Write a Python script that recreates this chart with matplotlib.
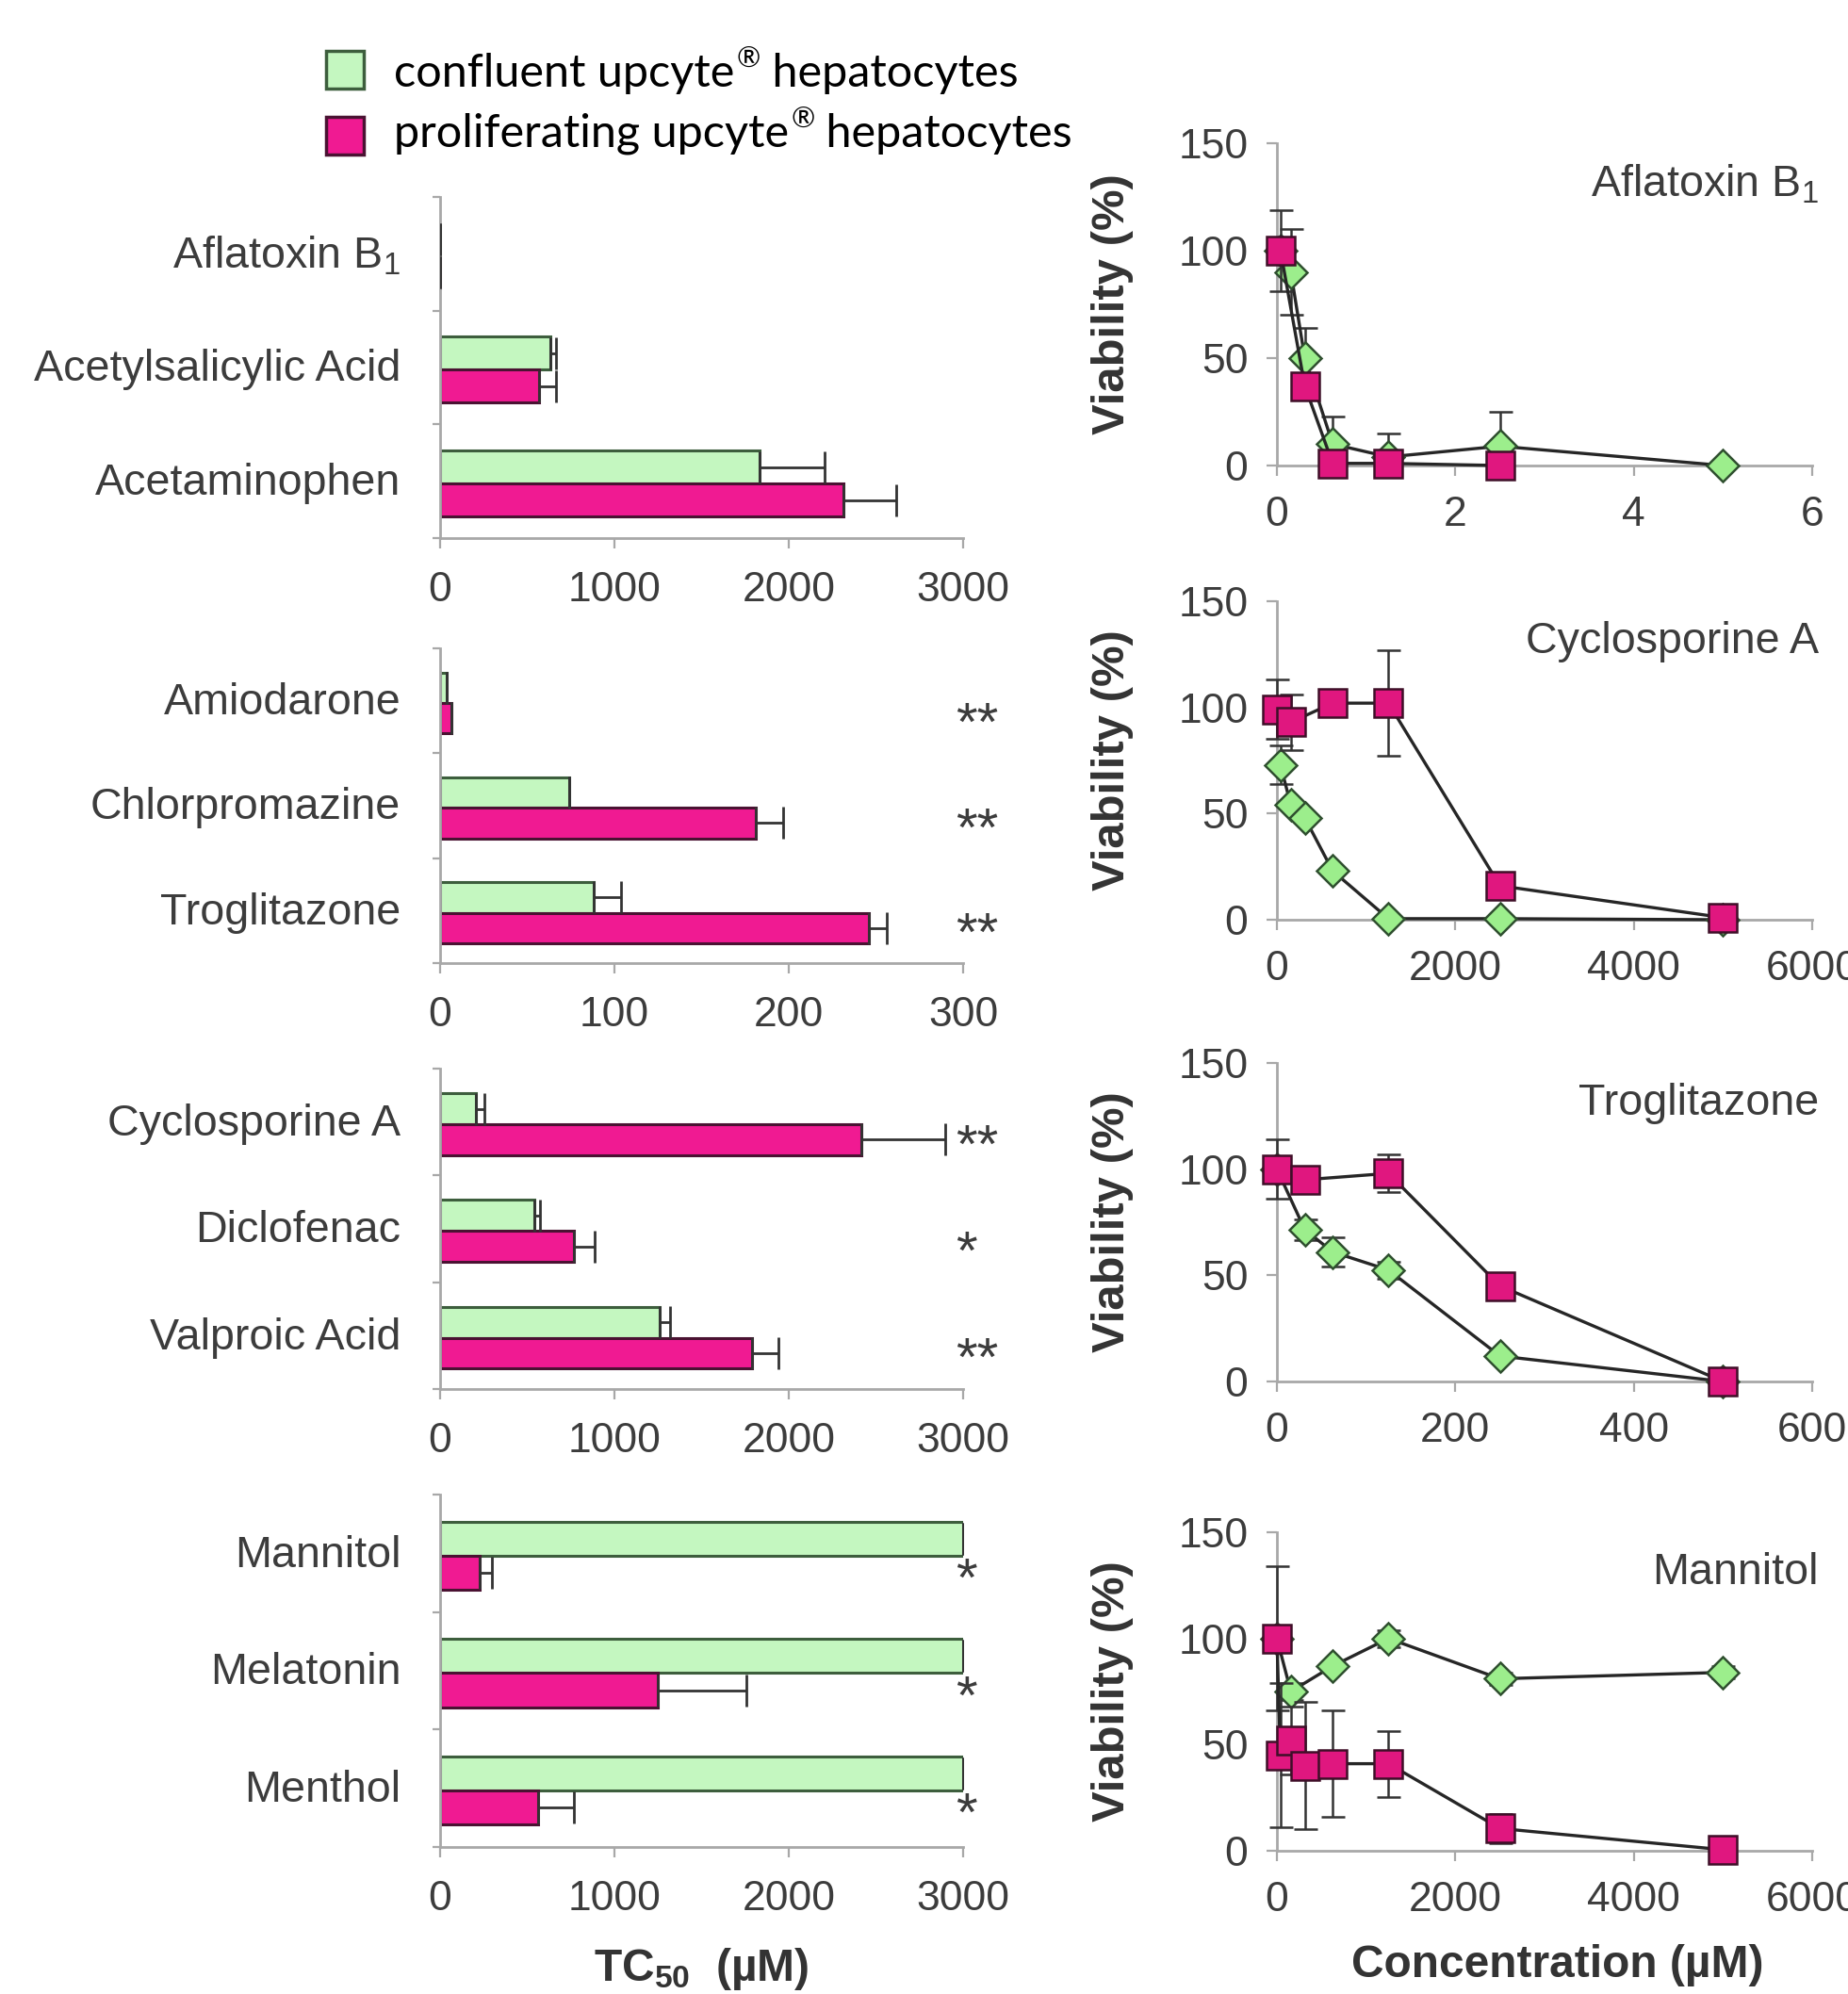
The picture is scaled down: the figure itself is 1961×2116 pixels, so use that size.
import matplotlib
matplotlib.use("Agg")
import matplotlib.pyplot as plt
import matplotlib.transforms as mtransforms
from matplotlib import font_manager as fm
from matplotlib.patches import Rectangle

def has_font(name):
    try:
        fm.findfont(fm.FontProperties(family=name), fallback_to_default=False)
        return True
    except Exception:
        return False

NARROW = has_font("Liberation Sans Narrow")
FONT = "Liberation Sans Narrow" if NARROW else "Liberation Sans"
SC = 1.0 if NARROW else 0.84
LEG_FONT = "Lato" if has_font("Lato") else "DejaVu Sans"

plt.rcParams["font.family"] = [FONT, "DejaVu Sans"]
plt.rcParams["mathtext.fontset"] = "custom"
plt.rcParams["mathtext.rm"] = FONT
plt.rcParams["mathtext.bf"] = FONT + ":bold"

# ---------------- data: TC50 bar panels ----------------
g1_cats = ["Aflatoxin B$\\mathregular{_1}$", "Acetylsalicylic Acid", "Acetaminophen"]
g1_conf = [1.0, 635, 1832]
g1_conf_err = [0, 30, 372]
g1_prol = [0.8, 569, 2314]
g1_prol_err = [0, 95, 300]
g1_stars = ["", "", ""]
g1_xticks = [0, 1000, 2000, 3000]

g2_cats = ["Amiodarone", "Chlorpromazine", "Troglitazone"]
g2_conf = [3.8, 74, 88]
g2_conf_err = [0, 0, 16]
g2_prol = [6.5, 181, 246]
g2_prol_err = [0, 16, 10]
g2_stars = ["**", "**", "**"]
g2_xticks = [0, 100, 200, 300]

g3_cats = ["Cyclosporine A", "Diclofenac", "Valproic Acid"]
g3_conf = [207, 543, 1259]
g3_conf_err = [49, 31, 61]
g3_prol = [2418, 765, 1787]
g3_prol_err = [479, 123, 153]
g3_stars = ["**", "*", "**"]
g3_xticks = [0, 1000, 2000, 3000]

g4_cats = ["Mannitol", "Melatonin", "Menthol"]
g4_conf = [3000, 3000, 3000]
g4_conf_err = [0, 0, 0]
g4_prol = [226, 1251, 563]
g4_prol_err = [69, 505, 202]
g4_stars = ["*", "*", "*"]
g4_xticks = [0, 1000, 2000, 3000]

# ---------------- data: viability curves ----------------
afla_conf_x = [0.04, 0.156, 0.3125, 0.625, 1.25, 2.5, 5.0]
afla_conf_y = [100, 90, 50, 10, 4, 9, 0]
afla_conf_lo = [0, 20, 0, 0, 0, 0, 0]
afla_conf_hi = [0, 20, 14, 13, 11, 16, 0]
afla_prol_x = [0.04, 0.3125, 0.625, 1.25, 2.5]
afla_prol_y = [100, 37, 1, 1, 0]
afla_prol_lo = [19, 0, 0, 0, 0]
afla_prol_hi = [19, 0, 0, 0, 0]

cyc_conf_x = [39, 156, 312, 625, 1250, 2500, 5000]
cyc_conf_y = [73, 54, 48, 23, 0.5, 0.5, 0]
cyc_conf_lo = [9, 0, 0, 0, 0, 0, 0]
cyc_conf_hi = [9, 0, 0, 0, 0, 0, 0]
cyc_prol_x = [0, 156, 625, 1250, 2500, 5000]
cyc_prol_y = [99, 93, 102, 102, 16, 1]
cyc_prol_lo = [14, 13, 0, 25, 0, 0]
cyc_prol_hi = [14, 13, 0, 25, 0, 0]

tro_conf_x = [0, 31.25, 62.5, 125, 250, 500]
tro_conf_y = [100, 71.5, 61, 52.5, 12, 0]
tro_conf_lo = [0, 5, 7, 4, 0, 0]
tro_conf_hi = [0, 5, 7, 4, 0, 0]
tro_prol_x = [0, 31.25, 125, 250, 500]
tro_prol_y = [100, 95, 98, 45, 0]
tro_prol_lo = [14, 6, 9, 0, 0]
tro_prol_hi = [14, 6, 9, 0, 0]

man_conf_x = [0, 156, 625, 1250, 2500, 5000]
man_conf_y = [100, 75, 87, 100, 81, 84]
man_conf_lo = [0, 4, 2, 4, 3, 3]
man_conf_hi = [0, 4, 2, 4, 3, 3]
man_prol_x = [0, 39, 156, 312, 625, 1250, 2500, 5000]
man_prol_y = [100, 45, 52, 40, 41, 41, 10.5, 0.5]
man_prol_lo = [34, 34, 16, 30, 25, 15.5, 7, 0]
man_prol_hi = [34, 34, 16, 30, 25, 15.5, 7, 0]

curve_titles = ["Aflatoxin B$\\mathregular{_1}$", "Cyclosporine A", "Troglitazone", "Mannitol"]
legend_labels = [("confluent upcyte", "\u00ae", " hepatocytes"),
                 ("proliferating upcyte", "\u00ae", " hepatocytes")]

# ---------------- styles ----------------
GREEN_BAR = "#C4F7C0"
GREEN_EDGE = "#3D5E3D"
MAG_BAR = "#F01A92"
MAG_EDGE = "#4A1232"
GREEN_MK = "#9CEE8C"
MAG_MK = "#E0177F"
AXIS = "#A8A8A8"
TXT = "#3C3C3C"

W, H = 1961, 2116
fig = plt.figure(figsize=(W / 100, H / 100), dpi=100)

def rect(x0, x1, ytop, ybot):
    return [x0 / W, 1 - ybot / H, (x1 - x0) / W, (ybot - ytop) / H]

def style_axes(ax):
    for s in ["top", "right"]:
        ax.spines[s].set_visible(False)
    for s in ["left", "bottom"]:
        ax.spines[s].set_color(AXIS)
        ax.spines[s].set_linewidth(2.0)
    ax.tick_params(colors=AXIS, labelcolor=TXT, width=1.6, length=8, direction="out",
                   labelsize=38 * SC)

# ---------------- bar panels ----------------
bar_groups = [
    (g1_cats, g1_conf, g1_conf_err, g1_prol, g1_prol_err, g1_stars, g1_xticks),
    (g2_cats, g2_conf, g2_conf_err, g2_prol, g2_prol_err, g2_stars, g2_xticks),
    (g3_cats, g3_conf, g3_conf_err, g3_prol, g3_prol_err, g3_stars, g3_xticks),
    (g4_cats, g4_conf, g4_conf_err, g4_prol, g4_prol_err, g4_stars, g4_xticks),
]
left_rows = [(209, 571), (688, 1022), (1134, 1474), (1586, 1960)]
bh = 0.29
for (cats, conf, cerr, prol, perr, stars, xt), (yt, yb) in zip(bar_groups, left_rows):
    ax = fig.add_axes(rect(467, 1022, yt, yb))
    style_axes(ax)
    n = len(cats)
    centers = [i + 0.52 for i in range(n)]
    yg = [c - bh / 2 for c in centers]
    ym = [c + bh / 2 for c in centers]
    ax.barh(yg, conf, height=bh, color=GREEN_BAR, edgecolor=GREEN_EDGE, linewidth=2.2, zorder=2)
    ax.barh(ym, prol, height=bh, color=MAG_BAR, edgecolor=MAG_EDGE, linewidth=2.2, zorder=2)
    ax.errorbar(conf, yg, xerr=[[0] * n, cerr], fmt="none", ecolor="#333333",
                elinewidth=2.0, capsize=12, capthick=2.0, zorder=3)
    ax.errorbar(prol, ym, xerr=[[0] * n, perr], fmt="none", ecolor="#333333",
                elinewidth=2.0, capsize=12, capthick=2.0, zorder=3)
    ax.set_xlim(xt[0], xt[-1])
    ax.set_ylim(n, 0)
    ax.set_xticks(xt)
    ax.set_xticklabels([str(v) for v in xt])
    ax.set_yticks(range(n + 1))
    ax.set_yticklabels([])
    ax.tick_params(axis="y", length=6)
    ax.tick_params(axis="x", pad=17)
    tr = mtransforms.blended_transform_factory(ax.transAxes, ax.transData)
    for c, lab in zip(centers, cats):
        ax.text(-0.075, c, lab, transform=tr, ha="right", va="center",
                fontsize=40 * SC, color=TXT)
    for y, s in zip(ym, stars):
        if s:
            ax.text(0.985, y + 0.08, s, transform=tr, ha="left", va="center",
                    fontsize=50 * SC, color=TXT, clip_on=False)

# ---------------- curve panels ----------------
curves = [
    (afla_conf_x, afla_conf_y, afla_conf_lo, afla_conf_hi,
     afla_prol_x, afla_prol_y, afla_prol_lo, afla_prol_hi, [0, 2, 4, 6]),
    (cyc_conf_x, cyc_conf_y, cyc_conf_lo, cyc_conf_hi,
     cyc_prol_x, cyc_prol_y, cyc_prol_lo, cyc_prol_hi, [0, 2000, 4000, 6000]),
    (tro_conf_x, tro_conf_y, tro_conf_lo, tro_conf_hi,
     tro_prol_x, tro_prol_y, tro_prol_lo, tro_prol_hi, [0, 200, 400, 600]),
    (man_conf_x, man_conf_y, man_conf_lo, man_conf_hi,
     man_prol_x, man_prol_y, man_prol_lo, man_prol_hi, [0, 2000, 4000, 6000]),
]
right_rows = [(152, 494), (638, 976), (1128, 1466), (1626, 1964)]
for (cx, cy, clo, chi, px, py, plo, phi, xt), (yt, yb), title in zip(curves, right_rows, curve_titles):
    ax = fig.add_axes(rect(1355, 1923, yt, yb))
    style_axes(ax)
    ax.errorbar(cx, cy, yerr=[clo, chi], fmt="-", color="#262626", lw=2.4,
                marker="D", ms=17, mfc=GREEN_MK, mec="#2F4F2F", mew=1.8,
                ecolor="#333333", elinewidth=1.8, capsize=9, capthick=1.8,
                clip_on=False, zorder=3)
    ax.errorbar(px, py, yerr=[plo, phi], fmt="-", color="#262626", lw=2.4,
                marker="s", ms=22, mfc=MAG_MK, mec="#3E0F28", mew=1.8,
                ecolor="#333333", elinewidth=1.8, capsize=9, capthick=1.8,
                clip_on=False, zorder=4)
    ax.set_xlim(xt[0], xt[-1])
    ax.set_ylim(0, 150)
    ax.set_xticks(xt)
    ax.set_xticklabels([str(v) for v in xt])
    ax.set_yticks([0, 50, 100, 150])
    ax.set_yticklabels(["0", "50", "100", "150"])
    ax.tick_params(axis="x", pad=15)
    ax.tick_params(axis="y", pad=14)
    ax.text(1.012, 131, title, transform=mtransforms.blended_transform_factory(ax.transAxes, ax.transData),
            ha="right", va="center", fontsize=40 * SC, color=TXT, clip_on=False)
    ax.set_ylabel("Viability (%)", fontsize=42 * SC, fontweight="bold", color="#333333", labelpad=34)

# ---------------- axis labels ----------------
fig.text(744 / W, 1 - 2089 / H, "TC$\\mathregular{_{50}}$  (\u00b5M)", ha="center", va="center",
         fontsize=41 * SC, fontweight="bold", color="#333333")
fig.text(1653 / W, 1 - 2085 / H, "Concentration (\u00b5M)", ha="center", va="center",
         fontsize=41 * SC, fontweight="bold", color="#333333")

# ---------------- legend ----------------
fig.patches.append(Rectangle((346 / W, 1 - 94 / H), 40 / W, 40 / H, transform=fig.transFigure,
                             facecolor=GREEN_BAR, edgecolor="#3D5E3D", linewidth=2.5))
fig.patches.append(Rectangle((346 / W, 1 - 164 / H), 40 / W, 40 / H, transform=fig.transFigure,
                             facecolor=MAG_BAR, edgecolor="#4A1232", linewidth=2.5))
renderer = fig.canvas.get_renderer()
for (a, reg, b), yc in zip(legend_labels, [74, 138]):
    x = 418
    t = fig.text(x / W, 1 - yc / H, a, ha="left", va="center_baseline", fontsize=35,
                 color="black", family=[LEG_FONT, "DejaVu Sans"])
    x = t.get_window_extent(renderer).x1 + 2
    t = fig.text(x / W, 1 - (yc - 14) / H, reg, ha="left", va="center_baseline", fontsize=22,
                 color="black", family=[LEG_FONT, "DejaVu Sans"])
    x = t.get_window_extent(renderer).x1
    fig.text(x / W, 1 - yc / H, b, ha="left", va="center_baseline", fontsize=35,
             color="black", family=[LEG_FONT, "DejaVu Sans"])

fig.savefig("out.png", dpi=100, facecolor="white")
